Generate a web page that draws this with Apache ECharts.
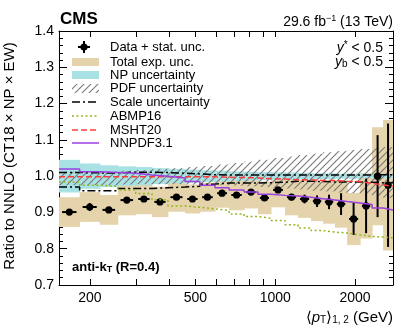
<!DOCTYPE html>
<html>
<head>
<meta charset="utf-8">
<script src="https://cdn.jsdelivr.net/npm/echarts@6/dist/echarts.min.js"></script>
<style>
html, body { margin: 0; padding: 0; background: #fff; }
#main { width: 407px; height: 332px; }
</style>
</head>
<body>
<div id="main"></div>
<script>
// bins in <pT>1,2 (GeV)
var binEdges = [153, 183, 218, 255, 298, 343, 394, 457, 520, 593, 670, 763, 861, 964, 1089, 1219, 1365, 1515, 1681, 1867, 2090, 2319, 2552, 2781];

// data / NNLO
var dataVal = [0.901, 0.915, 0.907, 0.934, 0.937, 0.929, 0.942, 0.937, 0.942, 0.953, 0.948, 0.956, 0.940, 0.962, 0.942, 0.937, 0.931, 0.929, 0.923, 0.882, 0.918, 1.000, 0.975];
var statUnc = [0.008, 0.011, 0.008, 0.008, 0.008, 0.007, 0.007, 0.007, 0.007, 0.007, 0.007, 0.008, 0.008, 0.008, 0.009, 0.012, 0.016, 0.020, 0.030, 0.044, 0.075, 0.113, 0.170];
var expUnc = [0.041, 0.041, 0.041, 0.042, 0.042, 0.042, 0.040, 0.040, 0.040, 0.040, 0.042, 0.045, 0.045, 0.048, 0.050, 0.052, 0.055, 0.060, 0.065, 0.072, 0.090, 0.135, 0.180];

// theory uncertainties (relative to 1)
var npUnc = [0.045, 0.035, 0.030, 0.027, 0.025, 0.022, 0.020, 0.018, 0.016, 0.015, 0.013, 0.012, 0.011, 0.010, 0.010, 0.009, 0.008, 0.008, 0.007, 0.007, 0.006, 0.006, 0.006];
var pdfUp = [1.012, 1.012, 1.013, 1.015, 1.017, 1.020, 1.022, 1.025, 1.028, 1.032, 1.036, 1.040, 1.045, 1.050, 1.054, 1.058, 1.062, 1.066, 1.069, 1.072, 1.075, 1.077, 1.080];
var pdfDown = [0.975, 0.975, 0.975, 0.977, 0.978, 0.978, 0.978, 0.977, 0.976, 0.975, 0.974, 0.972, 0.970, 0.968, 0.966, 0.963, 0.960, 0.958, 0.955, 0.953, 0.950, 0.945, 0.940];
var scaleUp = [1.010, 1.009, 1.009, 1.011, 1.011, 1.010, 1.008, 1.006, 1.004, 1.003, 1.003, 1.003, 1.003, 1.003, 1.003, 1.003, 1.003, 1.003, 1.003, 1.003, 1.003, 1.004, 1.004];
var scaleDown = [0.970, 0.960, 0.960, 0.966, 0.966, 0.968, 0.970, 0.972, 0.978, 0.981, 0.981, 0.981, 0.982, 0.983, 0.986, 0.986, 0.985, 0.984, 0.984, 0.984, 0.983, 0.982, 0.982];

// other PDF sets
var abmp16 = [0.984, 0.975, 0.972, 0.962, 0.952, 0.935, 0.918, 0.914, 0.910, 0.905, 0.896, 0.889, 0.884, 0.878, 0.866, 0.857, 0.850, 0.846, 0.843, 0.838, 0.834, 0.832, 0.830];
var msht20 = [0.998, 0.998, 0.998, 0.998, 0.998, 0.998, 0.998, 0.998, 0.998, 0.997, 0.996, 0.995, 0.993, 0.992, 0.990, 0.990, 0.988, 0.988, 0.986, 0.985, 0.980, 0.976, 0.972];
var nnpdf31 = [1.020, 1.012, 1.010, 1.008, 1.003, 1.000, 0.995, 0.985, 0.975, 0.968, 0.962, 0.956, 0.950, 0.947, 0.945, 0.942, 0.938, 0.934, 0.930, 0.926, 0.922, 0.912, 0.907];

var xLabelValues = [200, 500, 1000, 2000];
var xTickValues = [200, 300, 400, 500, 600, 700, 800, 900, 1000, 2000];

var lx = binEdges.map(function(v) { return Math.log10(v); });

function bands(lo, hi) {
    var out = [];
    for (var i = 0; i < lo.length; i++) {
        out.push([lx[i], lx[i + 1], lo[i], hi[i]]);
    }
    return out;
}
function steps(vals) {
    var out = [];
    for (var i = 0; i < vals.length; i++) {
        out.push([lx[i], vals[i]]);
        out.push([lx[i + 1], vals[i]]);
    }
    return out;
}

var expLo = dataVal.map(function(v, i) { return v - expUnc[i]; });
var expHi = dataVal.map(function(v, i) { return v + expUnc[i]; });
var npLo = npUnc.map(function(v) { return 1 - v; });
var npHi = npUnc.map(function(v) { return 1 + v; });

var points = dataVal.map(function(v, i) {
    var w = lx[i + 1] - lx[i];
    return [lx[i] + w * 0.15, lx[i + 1] - w * 0.15, v, statUnc[i]];
});

// hatch pattern
var hatch = document.createElement('canvas');
hatch.width = 7; hatch.height = 7;
var hctx = hatch.getContext('2d');
hctx.strokeStyle = '#7a7a7a';
hctx.lineWidth = 1.1;
hctx.beginPath();
hctx.moveTo(0, 7); hctx.lineTo(7, 0);
hctx.moveTo(-1, 1); hctx.lineTo(1, -1);
hctx.moveTo(6, 8); hctx.lineTo(8, 6);
hctx.stroke();
var hatchFill = { image: hatch, repeat: 'repeat' };

var tan = '#e5d3ab', cyan = '#a9e2e4', purple = '#9b3fe0', red = '#ff3c3c', green = '#93b81f';
var font = 'Liberation Sans';

function bandSeries(name, data, style) {
    return {
        type: 'custom', name: name, data: data, clip: true, silent: true,
        renderItem: function(params, api) {
            var p1 = api.coord([api.value(0), api.value(3)]);
            var p2 = api.coord([api.value(1), api.value(2)]);
            return {
                type: 'rect',
                shape: { x: p1[0], y: p1[1], width: p2[0] - p1[0] + 0.5, height: p2[1] - p1[1] },
                style: style
            };
        }
    };
}
function lineSeries(name, vals, color, type, width) {
    return {
        type: 'line', name: name, data: steps(vals), symbol: 'none', silent: true,
        lineStyle: { color: color, type: type, width: width }
    };
}

var myChart = echarts.init(document.getElementById('main'));

var tickStyle = { color: '#000', width: 1 };
var option = {
    animation: false,
    grid: { left: 59, right: 14, top: 31, bottom: 47 },
    xAxis: [{
        type: 'value', position: 'bottom',
        min: Math.log10(153), max: Math.log10(2781),
        axisLine: { show: true, lineStyle: tickStyle },
        splitLine: { show: false },
        axisTick: { inside: true, length: 6, lineStyle: tickStyle, customValues: xTickValues.map(Math.log10) },
        axisLabel: {
            customValues: xLabelValues.map(Math.log10),
            formatter: function(v) { return Math.round(Math.pow(10, v)); },
            color: '#000', fontSize: 14, fontFamily: font, margin: 6
        }
    }, {
        type: 'value', position: 'top',
        min: Math.log10(153), max: Math.log10(2781),
        axisLine: { show: true, lineStyle: tickStyle },
        splitLine: { show: false },
        axisTick: { inside: true, length: 6, lineStyle: tickStyle, customValues: xTickValues.map(Math.log10) },
        axisLabel: { show: false }
    }],
    yAxis: [{
        type: 'value', position: 'left', min: 0.7, max: 1.4, interval: 0.1,
        axisLine: { show: true, lineStyle: tickStyle },
        splitLine: { show: false },
        axisTick: { inside: true, length: 8, lineStyle: tickStyle },
        minorTick: { show: true, splitNumber: 5, length: 4, lineStyle: tickStyle },
        axisLabel: {
            formatter: function(v) { return v.toFixed(1); },
            color: '#000', fontSize: 14, fontFamily: font, margin: 5
        }
    }, {
        type: 'value', position: 'right', min: 0.7, max: 1.4, interval: 0.1,
        axisLine: { show: true, lineStyle: tickStyle },
        splitLine: { show: false },
        axisTick: { inside: true, length: 8, lineStyle: tickStyle },
        minorTick: { show: true, splitNumber: 5, length: 4, lineStyle: tickStyle },
        axisLabel: { show: false }
    }],
    series: [
        bandSeries('Total exp. unc.', bands(expLo, expHi), { fill: tan }),
        bandSeries('NP uncertainty', bands(npLo, npHi), { fill: cyan }),
        bandSeries('PDF uncertainty', bands(pdfDown, pdfUp), { fill: hatchFill }),
        lineSeries('Scale uncertainty', scaleUp, '#000', [8, 3, 2, 3], 1.5),
        lineSeries('Scale uncertainty', scaleDown, '#000', [8, 3, 2, 3], 1.5),
        lineSeries('ABMP16', abmp16, green, [2, 2.5], 1.5),
        lineSeries('MSHT20', msht20, red, [6, 3], 1.5),
        lineSeries('NNPDF3.1', nnpdf31, purple, 'solid', 1.5),
        {
            type: 'custom', name: 'Data + stat. unc.', data: points, clip: true, silent: true,
            renderItem: function(params, api) {
                var xa = api.value(0), xb = api.value(1), y = api.value(2), e = api.value(3);
                var xc = (xa + xb) / 2;
                var pl = api.coord([xa, y]), pr = api.coord([xb, y]);
                var pt = api.coord([xc, y + e]), pb = api.coord([xc, y - e]);
                var pc = api.coord([xc, y]);
                return {
                    type: 'group',
                    children: [
                        { type: 'line', shape: { x1: pl[0], y1: pl[1], x2: pr[0], y2: pr[1] }, style: { stroke: '#000', lineWidth: 2 } },
                        { type: 'line', shape: { x1: pt[0], y1: pt[1], x2: pb[0], y2: pb[1] }, style: { stroke: '#000', lineWidth: 2 } },
                        { type: 'circle', shape: { cx: pc[0], cy: pc[1], r: 3.6 }, style: { fill: '#000' } }
                    ]
                };
            }
        }
    ],
    graphic: [
        // header
        { type: 'text', x: 60, y: 19, style: { text: 'CMS', font: 'bold 17px ' + font, fill: '#000', verticalAlign: 'middle' } },
        { type: 'text', x: 393, y: 22, style: {
            text: '29.6 fb{sup|−1} (13 TeV)', font: '14px ' + font, fill: '#000', align: 'right', verticalAlign: 'middle',
            rich: { sup: { fontSize: 9, fontFamily: font, verticalAlign: 'top', lineHeight: 16 } }
        } },
        { type: 'text', x: 383, y: 48, style: {
            text: '{it|y}{sup|*} < 0.5', font: '14px ' + font, fill: '#000', align: 'right', verticalAlign: 'middle',
            rich: { it: { fontStyle: 'italic', fontSize: 14, fontFamily: font }, sup: { fontSize: 10, fontFamily: font, verticalAlign: 'top', lineHeight: 16 } }
        } },
        { type: 'text', x: 383, y: 62, style: {
            text: '{it|y}{sub|b} < 0.5', font: '14px ' + font, fill: '#000', align: 'right', verticalAlign: 'middle',
            rich: { it: { fontStyle: 'italic', fontSize: 14, fontFamily: font }, sub: { fontSize: 10, fontFamily: font, verticalAlign: 'bottom', lineHeight: 14 } }
        } },
        { type: 'text', x: 72, y: 267, style: {
            text: 'anti-k{sub|T} (R=0.4)', font: 'bold 13px ' + font, fill: '#000', verticalAlign: 'middle',
            rich: { sub: { fontSize: 9, fontWeight: 'bold', fontFamily: font, verticalAlign: 'bottom', lineHeight: 14 } }
        } },
        // axis titles
        { type: 'text', x: 393, y: 318, style: {
            text: '⟨{it|p}{sub|T}⟩{sub|1, 2} (GeV)', font: '15px ' + font, fill: '#000', align: 'right', verticalAlign: 'middle',
            rich: { it: { fontStyle: 'italic', fontSize: 15, fontFamily: font }, sub: { fontSize: 10, fontFamily: font, verticalAlign: 'bottom', lineHeight: 15 } }
        } },
        { type: 'text', x: 10, y: 156, rotation: Math.PI / 2, style: {
            text: 'Ratio to NNLO (CT18 × NP × EW)', font: '15px ' + font, fill: '#000', align: 'center', verticalAlign: 'middle'
        } },
        // legend
        { type: 'line', shape: { x1: 78, y1: 47, x2: 90, y2: 47 }, style: { stroke: '#000', lineWidth: 2 } },
        { type: 'line', shape: { x1: 84, y1: 41, x2: 84, y2: 53 }, style: { stroke: '#000', lineWidth: 2 } },
        { type: 'circle', shape: { cx: 84, cy: 47, r: 3.6 }, style: { fill: '#000' } },
        { type: 'rect', shape: { x: 72, y: 58, width: 27, height: 8 }, style: { fill: tan } },
        { type: 'rect', shape: { x: 72, y: 71, width: 27, height: 8 }, style: { fill: cyan } },
        { type: 'rect', shape: { x: 72, y: 84, width: 27, height: 9 }, style: { fill: hatchFill } },
        { type: 'line', shape: { x1: 72, y1: 102, x2: 99, y2: 102 }, style: { stroke: '#000', lineWidth: 1.5, lineDash: [8, 3, 2, 3] } },
        { type: 'line', shape: { x1: 72, y1: 116, x2: 99, y2: 116 }, style: { stroke: green, lineWidth: 1.5, lineDash: [2, 2.5] } },
        { type: 'line', shape: { x1: 72, y1: 130, x2: 99, y2: 130 }, style: { stroke: red, lineWidth: 1.5, lineDash: [6, 3] } },
        { type: 'line', shape: { x1: 72, y1: 143, x2: 99, y2: 143 }, style: { stroke: purple, lineWidth: 1.5 } },
        { type: 'text', x: 110, y: 47, style: { text: 'Data + stat. unc.', font: '13px ' + font, fill: '#000', verticalAlign: 'middle' } },
        { type: 'text', x: 110, y: 62, style: { text: 'Total exp. unc.', font: '13px ' + font, fill: '#000', verticalAlign: 'middle' } },
        { type: 'text', x: 110, y: 75, style: { text: 'NP uncertainty', font: '13px ' + font, fill: '#000', verticalAlign: 'middle' } },
        { type: 'text', x: 110, y: 88, style: { text: 'PDF uncertainty', font: '13px ' + font, fill: '#000', verticalAlign: 'middle' } },
        { type: 'text', x: 110, y: 102, style: { text: 'Scale uncertainty', font: '13px ' + font, fill: '#000', verticalAlign: 'middle' } },
        { type: 'text', x: 110, y: 116, style: { text: 'ABMP16', font: '13px ' + font, fill: '#000', verticalAlign: 'middle' } },
        { type: 'text', x: 110, y: 130, style: { text: 'MSHT20', font: '13px ' + font, fill: '#000', verticalAlign: 'middle' } },
        { type: 'text', x: 110, y: 143, style: { text: 'NNPDF3.1', font: '13px ' + font, fill: '#000', verticalAlign: 'middle' } }
    ]
};

myChart.setOption(option);
</script>
</body>
</html>
